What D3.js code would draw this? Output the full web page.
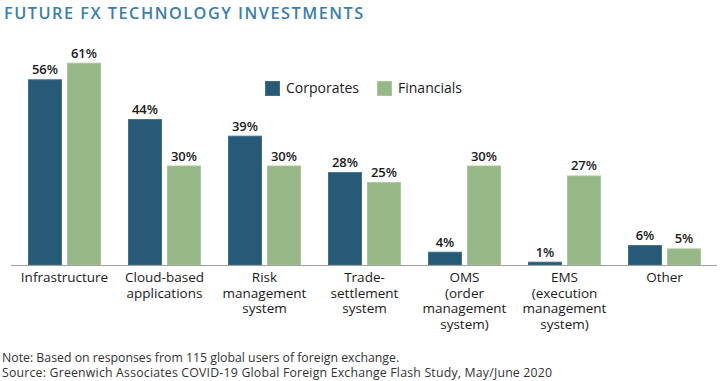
<!DOCTYPE html>
<html>
<head>
<meta charset="utf-8">
<script src="https://cdn.jsdelivr.net/npm/d3@7"></script>
<style>
  html, body { margin: 0; padding: 0; background: #fff; }
  svg { display: block; }
  text { font-family: "Open Sans", "Noto Sans", sans-serif; }
</style>
</head>
<body>
<script>
const categories = [
  ["Infrastructure"],
  ["Cloud-based", "applications"],
  ["Risk", "management", "system"],
  ["Trade-", "settlement", "system"],
  ["OMS", "(order", "management", "system)"],
  ["EMS", "(execution", "management", "system)"],
  ["Other"]
];
const categoryKeys = ["Infrastructure", "Cloud-based applications", "Risk management system", "Trade-settlement system", "OMS", "EMS", "Other"];
const seriesNames = ["Corporates", "Financials"];
const corporates = [56, 44, 39, 28, 4, 1, 6];
const financials = [61, 30, 30, 25, 30, 27, 5];
const title = "FUTURE FX TECHNOLOGY INVESTMENTS";
const notes = [
  "Note: Based on responses from 115 global users of foreign exchange.",
  "Source: Greenwich Associates COVID-19 Global Foreign Exchange Flash Study, May/June 2020"
];

const W = 720, H = 381;
const colors = { Corporates: "#265a77", Financials: "#95b886" };
const strokes = { Corporates: "#3f6f8b", Financials: "#a9c69c" };

const svg = d3.select("body").append("svg").attr("width", W).attr("height", H);

const x = d3.scaleBand().domain(categoryKeys).range([14.5, 714.5]).padding(0);
const xs = d3.scaleBand().domain(seriesNames).range([13.5, 86.5]).paddingInner(5 / 39).paddingOuter(0);
const baseY = 265;
const y = d3.scaleLinear().domain([0, 100]).range([baseY, baseY - 331.6]);

// title
svg.append("text")
  .attr("x", 4).attr("y", 18.5)
  .attr("fill", "#3a7eaa")
  .attr("font-size", 16.3)
  .attr("font-weight", 600)
  .attr("letter-spacing", 1.5)
  .text(title);

const rows = categoryKeys.map((k, i) => ({ key: k, lines: categories[i], Corporates: corporates[i], Financials: financials[i] }));

const g = svg.append("g").selectAll("g").data(rows).join("g")
  .attr("transform", d => `translate(${x(d.key)},0)`);

g.selectAll("rect").data(d => seriesNames.map(s => ({ s, v: d[s] }))).join("rect")
  .attr("x", d => xs(d.s) + 0.5)
  .attr("width", xs.bandwidth() - 1)
  .attr("y", d => y(d.v) + 0.5)
  .attr("height", d => baseY - y(d.v) - 0.5)
  .attr("fill", d => colors[d.s])
  .attr("stroke", d => strokes[d.s])
  .attr("stroke-width", 1);

g.selectAll("text.val").data(d => seriesNames.map(s => ({ s, v: d[s] }))).join("text")
  .attr("class", "val")
  .attr("x", d => xs(d.s) + xs.bandwidth() / 2)
  .attr("y", d => y(d.v) - 5)
  .attr("text-anchor", "middle")
  .attr("font-size", 13)
  .attr("font-weight", 600)
  .attr("fill", "#1a1a1a")
  .text(d => d.v + "%");

// axis line
svg.append("line")
  .attr("x1", 11).attr("x2", 717)
  .attr("y1", baseY + 0.5).attr("y2", baseY + 0.5)
  .attr("stroke", "#a0a0a0").attr("stroke-width", 1);

// category labels
g.append("text")
  .attr("text-anchor", "middle")
  .attr("font-size", 13.5)
  .attr("fill", "#1a1a1a")
  .selectAll("tspan").data(d => d.lines).join("tspan")
  .attr("x", x.bandwidth() / 2)
  .attr("y", (d, i) => 282 + i * 15.5)
  .text(d => d);

// legend
const legend = svg.append("g");
const legendX = [265, 377];
seriesNames.forEach((s, i) => {
  legend.append("rect")
    .attr("x", legendX[i] + 0.5).attr("y", 81.5)
    .attr("width", 14).attr("height", 14)
    .attr("fill", colors[s]).attr("stroke", strokes[s]);
  legend.append("text")
    .attr("x", legendX[i] + 21).attr("y", 93)
    .attr("font-size", 14)
    .attr("fill", "#1a1a1a")
    .text(s);
});

// notes
svg.selectAll("text.note").data(notes).join("text")
  .attr("class", "note")
  .attr("x", 2)
  .attr("y", (d, i) => 362 + i * 15)
  .attr("font-size", 12.3)
  .attr("letter-spacing", (d, i) => i === 1 ? 0.2 : 0)
  .attr("fill", "#333")
  .text(d => d);
</script>
</body>
</html>
